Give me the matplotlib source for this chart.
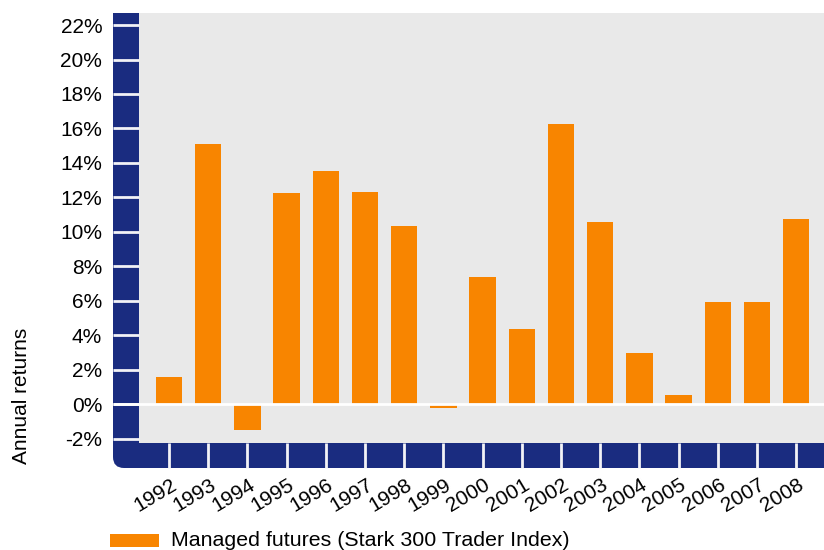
import matplotlib
matplotlib.use("Agg")
import matplotlib.pyplot as plt
import numpy as np
from matplotlib.patches import Rectangle, FancyBboxPatch
from matplotlib.transforms import IdentityTransform, ScaledTranslation

# ---- data ----
years = [str(y) for y in range(1992, 2009)]
returns = [1.6, 15.1, -1.5, 12.25, 13.5, 12.3, 10.35, -0.2, 7.4, 4.35,
           16.25, 10.55, 2.95, 0.5, 5.9, 5.9, 10.75]
ytick_values = list(range(-2, 23, 2))
ytick_labels = [f"{v}%" for v in ytick_values]
series_label = "Managed futures (Stark 300 Trader Index)"
ylabel_text = "Annual returns"

# ---- style ----
ORANGE = "#F88500"
NAVY = "#1A2C80"
PANEL = "#E9E9E9"
SEP = "#F2F2F6"
FS = 15

plt.rcParams['font.family'] = ['Liberation Sans', 'DejaVu Sans']

W, H = 824, 550
fig = plt.figure(figsize=(W / 100, H / 100), dpi=100)

# panel box in pixels (image coordinates, y downward)
pl, pt, pr, pb = 139, 13, 824, 443
band_left, band_bottom = 113, 468
ax = fig.add_axes([pl / W, 1 - pb / H, (pr - pl) / W, (pb - pt) / H])
ax.set_zorder(3)
ax.set_facecolor(PANEL)
for s in ax.spines.values():
    s.set_visible(False)

x = np.arange(len(years))
ax.bar(x, returns, width=0.67, color=ORANGE, zorder=2)
ax.set_xlim(-0.765, len(years) - 1 + 0.71)
ax.set_ylim(-2.26, 22.7)

# ticks
ax.set_yticks(ytick_values, ytick_labels)
ax.tick_params(axis='y', length=0, pad=26.5, labelsize=FS)
ax.set_xticks(x, years)
ax.tick_params(axis='x', length=0, pad=29, labelsize=FS)
for lab in ax.get_xticklabels():
    lab.set_rotation(31)
    lab.set_ha('right')
    lab.set_va('center')
    lab.set_rotation_mode('anchor')
    lab.set_transform(lab.get_transform() + ScaledTranslation(6 / 100, 0, fig.dpi_scale_trans))

# navy L-shaped frame (pixel coordinates, origin bottom-left)
idt = IdentityTransform()
r = 11
fig.add_artist(Rectangle((band_left, H - pb - 12), pl - band_left, pb + 12 - pt,
                         transform=idt, color=NAVY, zorder=1, lw=0))
fig.add_artist(Rectangle((band_left + 12, H - band_bottom), W - band_left - 12, band_bottom - pb,
                         transform=idt, color=NAVY, zorder=1, lw=0))
fig.add_artist(FancyBboxPatch((band_left, H - band_bottom), pl - band_left, band_bottom - pb,
                              boxstyle=f"round,pad=0,rounding_size={r}",
                              transform=idt, color=NAVY, zorder=1, lw=0))

# separators on the left band at each y tick
lx0 = -(pl - band_left) / (pr - pl)
ytr = ax.get_yaxis_transform()
for v in ytick_values:
    ax.plot([lx0, 0], [v, v], color=SEP, lw=2.0, transform=ytr, clip_on=False, zorder=5,
            solid_capstyle='butt')
# zero line across the panel
ax.plot([lx0, 1], [0, 0], color='white', lw=2.0, transform=ytr, clip_on=False, zorder=5,
        solid_capstyle='butt')

# separators on the bottom band at each category
xtr = ax.get_xaxis_transform()
by0 = -(band_bottom - pb) / (pb - pt)
for xi in x:
    ax.plot([xi, xi], [by0, 0], color=SEP, lw=2.0, transform=xtr, clip_on=False, zorder=5,
            solid_capstyle='butt')

# y label
fig.text(22 / W, 1 - 396 / H, ylabel_text, rotation=90, ha='center', va='center', fontsize=FS)

# legend
fig.add_artist(Rectangle((110, H - 547), 49, 13, transform=idt, color=ORANGE, lw=0))
fig.text(171 / W, 1 - 541 / H, series_label, ha='left', va='center', fontsize=15.4)

fig.savefig("out.png", dpi=100)
